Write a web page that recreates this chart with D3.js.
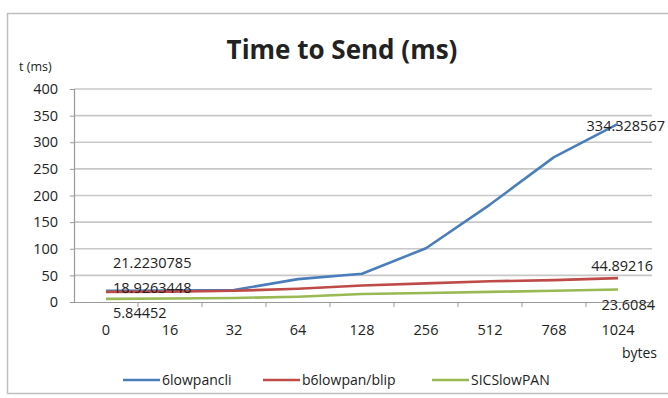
<!DOCTYPE html>
<html><head><meta charset="utf-8">
<script src="https://cdn.jsdelivr.net/npm/d3@7"></script>
<style>body{margin:0;background:#fff}svg{display:block}text{font-family:"Open Sans",Lato,sans-serif;fill:#222}</style>
</head><body><svg id="c" width="668" height="398"></svg>
<script>
const categories = ["0","16","32","64","128","256","512","768","1024"];
const seriesNames = ["6lowpancli","b6lowpan/blip","SICSlowPAN"];
const lowpancli = [21.2230785, 21.5, 22.5, 43, 53, 101, 183, 272, 334.328567];
const blip = [18.9263448, 19.5, 21, 25, 31, 35, 39, 41, 44.89216];
const sics = [5.84452, 6.5, 7.5, 10, 15, 17, 19, 21, 23.6084];
const yTicks = [0,50,100,150,200,250,300,350,400];
const colors = ["#4a7ebb","#be4b48","#98b954"];
const series = [lowpancli, blip, sics];
const FF = "'Open Sans'";

const svg = d3.select("#c");
svg.append("rect").attr("x",7.5).attr("y",13.5).attr("width",680).attr("height",380)
  .attr("fill","none").attr("stroke","#bfbfbf").attr("stroke-width",1.5);

const x = d3.scaleBand().domain(categories).range([74,650]);
const y = d3.scaleLinear().domain([0,400]).range([302,89]);

svg.append("g").selectAll("line").data(yTicks.slice(1)).join("line")
  .attr("x1",74).attr("x2",652).attr("y1",d=>y(d)).attr("y2",d=>y(d))
  .attr("stroke","#c8c8c8").attr("stroke-width",1.6);

const ya = svg.append("g").attr("transform","translate(74,0)")
  .call(d3.axisLeft(y).tickValues(yTicks).tickSize(4).tickPadding(12));
ya.select(".domain").attr("stroke","#999").attr("stroke-width",1.2);
ya.selectAll(".tick line").attr("stroke","#999");
ya.selectAll("text").attr("font-size",14.5).attr("fill","#333").style("font-family",FF);

const xa = svg.append("g").attr("transform","translate(0,302)")
  .call(d3.axisBottom(x).tickSize(0).tickPadding(23));
xa.select(".domain").attr("stroke","#999").attr("stroke-width",1.2);
xa.selectAll("text").attr("font-size",14.5).attr("fill","#333").style("font-family",FF);
svg.append("g").selectAll("line").data(categories).join("line")
  .attr("x1",d=>x(d)+x.bandwidth()).attr("x2",d=>x(d)+x.bandwidth())
  .attr("y1",302).attr("y2",307).attr("stroke","#999");

const line = d3.line().x((d,i)=>x(categories[i])+x.bandwidth()/2).y(d=>y(d));
series.forEach((s,k)=>{
  svg.append("path").datum(s).attr("d",line).attr("fill","none")
    .attr("stroke",colors[k]).attr("stroke-width",2.6).attr("stroke-linejoin","round");
});

const first = x(categories[0])+x.bandwidth()/2;
const last = x(categories[8])+x.bandwidth()/2;
const lab = (t,xx,yy,anchor)=>svg.append("text").attr("x",xx).attr("y",yy).attr("text-anchor",anchor)
  .attr("font-size",14.5).attr("fill","#333").text(t);
lab(String(lowpancli[0]), first+7, 268, "start");
lab(String(blip[0]), first+7, 293, "start");
lab(String(sics[0]), first+7, 318, "start");
lab(String(lowpancli[8]), last+47, 131, "end");
lab(String(blip[8]), last+35, 271, "end");
lab(String(sics[8]), last+37, 310, "end");

svg.append("text").attr("x",342).attr("y",59).attr("text-anchor","middle")
  .attr("font-size",26).attr("font-weight","bold").attr("fill","#111").text("Time to Send (ms)");
svg.append("text").attr("x",19).attr("y",71).attr("font-size",12.5).attr("fill","#333").text("t (ms)");
svg.append("text").attr("x",657).attr("y",358).attr("text-anchor","end").attr("font-size",14).attr("fill","#333").text("bytes");

const lx = [123,263,432];
seriesNames.forEach((n,k)=>{
  svg.append("line").attr("x1",lx[k]).attr("x2",lx[k]+37).attr("y1",380).attr("y2",380)
    .attr("stroke",colors[k]).attr("stroke-width",2.6);
  svg.append("text").attr("x",lx[k]+39).attr("y",385).attr("font-size",14).attr("fill","#333").text(n);
});
</script></body></html>
